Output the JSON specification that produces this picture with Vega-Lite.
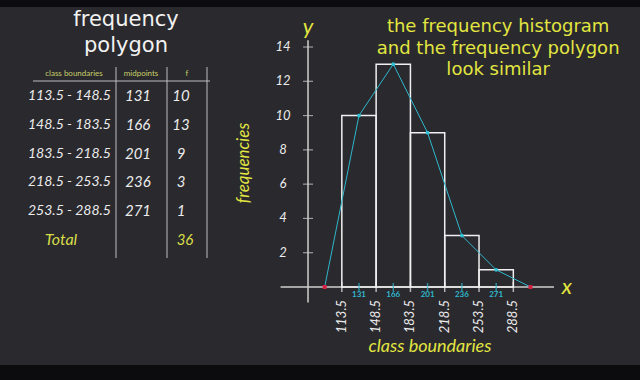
{
  "$schema": "https://vega.github.io/schema/vega-lite/v6.json",
  "width": 640,
  "height": 380,
  "autosize": {"type": "fit", "contains": "padding"},
  "padding": {"top": 7, "bottom": 15, "left": 0, "right": 0},
  "background": "#0c0c0e",
  "config": {
    "view": {"fill": "#2a292e", "stroke": null},
    "axis": {"disable": true},
    "text": {"font": "Lato"}
  },
  "datasets": {
    "table": [
      {"boundaries": "113.5 - 148.5", "midpoint": "131", "f": "10"},
      {"boundaries": "148.5 - 183.5", "midpoint": "166", "f": "13"},
      {"boundaries": "183.5 - 218.5", "midpoint": "201", "f": "9"},
      {"boundaries": "218.5 - 253.5", "midpoint": "236", "f": "3"},
      {"boundaries": "253.5 - 288.5", "midpoint": "271", "f": "1"}
    ],
    "classes": [
      {"lower": 113.5, "upper": 148.5, "mid": 131, "f": 10},
      {"lower": 148.5, "upper": 183.5, "mid": 166, "f": 13},
      {"lower": 183.5, "upper": 218.5, "mid": 201, "f": 9},
      {"lower": 218.5, "upper": 253.5, "mid": 236, "f": 3},
      {"lower": 253.5, "upper": 288.5, "mid": 271, "f": 1}
    ],
    "bounds": [
      {"b": 113.5}, {"b": 148.5}, {"b": 183.5}, {"b": 218.5}, {"b": 253.5}, {"b": 288.5}
    ],
    "polygon": [
      {"x": 96, "f": 0},
      {"x": 131, "f": 10},
      {"x": 166, "f": 13},
      {"x": 201, "f": 9},
      {"x": 236, "f": 3},
      {"x": 271, "f": 1},
      {"x": 306, "f": 0}
    ],
    "yticks": [{"v": 2}, {"v": 4}, {"v": 6}, {"v": 8}, {"v": 10}, {"v": 12}, {"v": 14}],
    "one": [{}]
  },
  "layer": [
    {
      "data": {"name": "table"},
      "layer": [
        {
          "mark": {"type": "text", "color": "#ececec", "fontSize": 14, "fontStyle": "italic", "align": "left", "baseline": "middle", "dx": -69},
          "encoding": {
            "x": {"datum": "class boundaries", "type": "nominal", "scale": {"type": "point", "domain": ["class boundaries", "midpoints", "f"], "range": [97, 184], "padding": 0}, "axis": null},
            "y": {"field": "boundaries", "type": "nominal", "scale": {"type": "point", "domain": ["header", "113.5 - 148.5", "148.5 - 183.5", "183.5 - 218.5", "218.5 - 253.5", "253.5 - 288.5", "Total"], "range": [60, 233], "padding": 0}, "axis": null},
            "text": {"field": "boundaries"}
          }
        },
        {
          "mark": {"type": "text", "color": "#ececec", "fontSize": 15, "fontStyle": "italic", "baseline": "middle", "dx": -2.5},
          "encoding": {
            "x": {"datum": "midpoints", "type": "nominal"},
            "y": {"field": "boundaries", "type": "nominal"},
            "text": {"field": "midpoint"}
          }
        },
        {
          "mark": {"type": "text", "color": "#ececec", "fontSize": 15, "fontStyle": "italic", "baseline": "middle", "dx": -3},
          "encoding": {
            "x": {"datum": "f", "type": "nominal"},
            "y": {"field": "boundaries", "type": "nominal"},
            "text": {"field": "f"}
          }
        },
        {
          "data": {"values": [{"label": "class boundaries"}]},
          "mark": {"type": "text", "color": "#c8cf68", "fontSize": 8, "baseline": "middle", "dx": -23, "dy": 7},
          "encoding": {
            "x": {"datum": "class boundaries", "type": "nominal"},
            "y": {"datum": "header", "type": "nominal"},
            "text": {"field": "label"}
          }
        },
        {
          "data": {"values": [{"label": "midpoints"}]},
          "mark": {"type": "text", "color": "#c8cf68", "fontSize": 8, "baseline": "middle", "dx": 0.5, "dy": 7},
          "encoding": {
            "x": {"datum": "midpoints", "type": "nominal"},
            "y": {"datum": "header", "type": "nominal"},
            "text": {"field": "label"}
          }
        },
        {
          "data": {"values": [{"label": "f"}]},
          "mark": {"type": "text", "color": "#c8cf68", "fontSize": 8, "baseline": "middle", "dx": 3, "dy": 7},
          "encoding": {
            "x": {"datum": "f", "type": "nominal"},
            "y": {"datum": "header", "type": "nominal"},
            "text": {"field": "label"}
          }
        },
        {
          "data": {"values": [{"label": "Total", "total": "36"}]},
          "layer": [
            {
              "mark": {"type": "text", "color": "#d8de48", "fontSize": 16, "fontStyle": "italic", "baseline": "middle", "dx": -36},
              "encoding": {
                "x": {"datum": "class boundaries", "type": "nominal"},
                "y": {"field": "label", "type": "nominal"},
                "text": {"field": "label"}
              }
            },
            {
              "mark": {"type": "text", "color": "#d8de48", "fontSize": 15, "fontStyle": "italic", "baseline": "middle", "dx": 1},
              "encoding": {
                "x": {"datum": "f", "type": "nominal"},
                "y": {"field": "label", "type": "nominal"},
                "text": {"field": "total"}
              }
            }
          ]
        },
        {
          "data": {"name": "one"},
          "mark": {"type": "rule", "color": "#bdbdbd", "strokeWidth": 1, "xOffset": -24.5, "y2Offset": 18},
          "encoding": {
            "x": {"datum": "midpoints", "type": "nominal"},
            "y": {"datum": "header", "type": "nominal"},
            "y2": {"datum": "Total"}
          }
        },
        {
          "data": {"name": "one"},
          "mark": {"type": "rule", "color": "#bdbdbd", "strokeWidth": 1, "xOffset": -17, "y2Offset": 18},
          "encoding": {
            "x": {"datum": "f", "type": "nominal"},
            "y": {"datum": "header", "type": "nominal"},
            "y2": {"datum": "Total"}
          }
        },
        {
          "data": {"name": "one"},
          "mark": {"type": "rule", "color": "#bdbdbd", "strokeWidth": 1, "xOffset": 23, "y2Offset": 18},
          "encoding": {
            "x": {"datum": "f", "type": "nominal"},
            "y": {"datum": "header", "type": "nominal"},
            "y2": {"datum": "Total"}
          }
        },
        {
          "data": {"name": "one"},
          "mark": {"type": "rule", "color": "#bdbdbd", "strokeWidth": 1, "xOffset": -64, "x2Offset": 26, "yOffset": 14},
          "encoding": {
            "x": {"datum": "class boundaries", "type": "nominal"},
            "x2": {"datum": "f"},
            "y": {"datum": "header", "type": "nominal"}
          }
        },
        {
          "data": {"values": [{"t": "frequency"}]},
          "mark": {"type": "text", "color": "#f2f2f2", "fontSize": 21, "font": "DejaVu Sans", "baseline": "alphabetic", "dx": -14.5, "dy": -41},
          "encoding": {
            "x": {"datum": "midpoints", "type": "nominal"},
            "y": {"datum": "header", "type": "nominal"},
            "text": {"field": "t"}
          }
        },
        {
          "data": {"values": [{"t": "polygon"}]},
          "mark": {"type": "text", "color": "#f2f2f2", "fontSize": 21, "font": "DejaVu Sans", "baseline": "alphabetic", "dx": -14.5, "dy": -15},
          "encoding": {
            "x": {"datum": "midpoints", "type": "nominal"},
            "y": {"datum": "header", "type": "nominal"},
            "text": {"field": "t"}
          }
        }
      ]
    },
    {
      "layer": [
        {
          "data": {"name": "one"},
          "mark": {"type": "rule", "color": "#cfcfcf", "strokeWidth": 1.5},
          "encoding": {
            "x": {"datum": 51, "type": "quantitative", "scale": {"domain": [80, 330], "range": [309, 554], "nice": false, "zero": false}, "axis": null},
            "x2": {"datum": 330},
            "y": {"datum": 0, "type": "quantitative", "scale": {"domain": [0, 14], "range": [280, 40], "nice": false, "zero": false}, "axis": null}
          }
        },
        {
          "data": {"name": "one"},
          "mark": {"type": "rule", "color": "#cfcfcf", "strokeWidth": 1.5},
          "encoding": {
            "x": {"datum": 79, "type": "quantitative"},
            "y": {"datum": -0.9, "type": "quantitative"},
            "y2": {"datum": 14.4}
          }
        },
        {
          "data": {"name": "yticks"},
          "mark": {"type": "tick", "orient": "horizontal", "size": 10, "thickness": 1.2, "color": "#cfcfcf"},
          "encoding": {
            "x": {"datum": 79, "type": "quantitative"},
            "y": {"field": "v", "type": "quantitative"}
          }
        },
        {
          "data": {"name": "yticks"},
          "mark": {"type": "text", "color": "#ececec", "fontSize": 13, "fontStyle": "italic", "dx": -25, "baseline": "middle"},
          "encoding": {
            "x": {"datum": 79, "type": "quantitative"},
            "y": {"field": "v", "type": "quantitative"},
            "text": {"field": "v"}
          }
        },
        {
          "data": {"name": "classes"},
          "mark": {"type": "rect", "fill": null, "fillOpacity": 0, "stroke": "#f0f0f0", "strokeWidth": 1.5},
          "encoding": {
            "x": {"field": "lower", "type": "quantitative"},
            "x2": {"field": "upper"},
            "y": {"field": "f", "type": "quantitative"},
            "y2": {"datum": 0}
          }
        },
        {
          "data": {"name": "bounds"},
          "mark": {"type": "tick", "orient": "vertical", "size": 10, "thickness": 1.5, "color": "#f0f0f0"},
          "encoding": {
            "x": {"field": "b", "type": "quantitative"},
            "y": {"datum": 0, "type": "quantitative"}
          }
        },
        {
          "data": {"name": "bounds"},
          "mark": {"type": "text", "color": "#ececec", "fontSize": 13, "fontStyle": "italic", "angle": 270, "align": "right", "baseline": "middle"},
          "encoding": {
            "x": {"field": "b", "type": "quantitative"},
            "y": {"datum": -0.76, "type": "quantitative"},
            "text": {"field": "b", "type": "quantitative", "format": ".1f"}
          }
        },
        {
          "data": {"name": "classes"},
          "mark": {"type": "tick", "orient": "vertical", "size": 8, "thickness": 1.5, "color": "#2fb8cc"},
          "encoding": {
            "x": {"field": "mid", "type": "quantitative"},
            "y": {"datum": 0, "type": "quantitative"}
          }
        },
        {
          "data": {"name": "classes"},
          "mark": {"type": "text", "color": "#2fb8cc", "fontSize": 8, "fontWeight": "bold", "baseline": "middle"},
          "encoding": {
            "x": {"field": "mid", "type": "quantitative"},
            "y": {"datum": -0.47, "type": "quantitative"},
            "text": {"field": "mid"}
          }
        },
        {
          "data": {"name": "polygon"},
          "mark": {"type": "line", "color": "#2fb8cc", "strokeWidth": 1},
          "encoding": {
            "x": {"field": "x", "type": "quantitative"},
            "y": {"field": "f", "type": "quantitative"}
          }
        },
        {
          "data": {"name": "classes"},
          "mark": {"type": "point", "filled": true, "color": "#2fc4d8", "size": 14, "opacity": 1},
          "encoding": {
            "x": {"field": "mid", "type": "quantitative"},
            "y": {"field": "f", "type": "quantitative"}
          }
        },
        {
          "data": {"name": "polygon"},
          "transform": [{"filter": "datum.f == 0"}],
          "mark": {"type": "square", "filled": true, "color": "#d42040", "size": 16, "opacity": 1},
          "encoding": {
            "x": {"field": "x", "type": "quantitative"},
            "y": {"field": "f", "type": "quantitative"}
          }
        },
        {
          "data": {"values": [{"t": "the frequency histogram"}]},
          "mark": {"type": "text", "color": "#e2e640", "fontSize": 18, "font": "DejaVu Sans", "baseline": "alphabetic", "align": "center"},
          "encoding": {
            "x": {"datum": 273, "type": "quantitative"},
            "y": {"datum": 14.875, "type": "quantitative"},
            "text": {"field": "t"}
          }
        },
        {
          "data": {"values": [{"t": "and the frequency polygon"}]},
          "mark": {"type": "text", "color": "#e2e640", "fontSize": 18, "font": "DejaVu Sans", "baseline": "alphabetic", "align": "center"},
          "encoding": {
            "x": {"datum": 273, "type": "quantitative"},
            "y": {"datum": 13.62, "type": "quantitative"},
            "text": {"field": "t"}
          }
        },
        {
          "data": {"values": [{"t": "look similar"}]},
          "mark": {"type": "text", "color": "#e2e640", "fontSize": 18, "font": "DejaVu Sans", "baseline": "alphabetic", "align": "center"},
          "encoding": {
            "x": {"datum": 273, "type": "quantitative"},
            "y": {"datum": 12.37, "type": "quantitative"},
            "text": {"field": "t"}
          }
        },
        {
          "data": {"values": [{"t": "y"}]},
          "mark": {"type": "text", "color": "#e2e640", "fontSize": 22, "fontStyle": "italic", "baseline": "alphabetic"},
          "encoding": {
            "x": {"datum": 79, "type": "quantitative"},
            "y": {"datum": 14.75, "type": "quantitative"},
            "text": {"field": "t"}
          }
        },
        {
          "data": {"values": [{"t": "x"}]},
          "mark": {"type": "text", "color": "#e2e640", "fontSize": 22, "fontStyle": "italic", "baseline": "middle"},
          "encoding": {
            "x": {"datum": 343, "type": "quantitative"},
            "y": {"datum": 0, "type": "quantitative"},
            "text": {"field": "t"}
          }
        },
        {
          "data": {"values": [{"t": "frequencies"}]},
          "mark": {"type": "text", "color": "#e2e640", "fontSize": 17, "fontStyle": "italic", "angle": 270, "baseline": "middle"},
          "encoding": {
            "x": {"datum": 13.5, "type": "quantitative"},
            "y": {"datum": 7.23, "type": "quantitative"},
            "text": {"field": "t"}
          }
        },
        {
          "data": {"values": [{"t": "class boundaries"}]},
          "mark": {"type": "text", "color": "#e2e640", "fontSize": 18, "fontStyle": "italic", "baseline": "middle"},
          "encoding": {
            "x": {"datum": 203.5, "type": "quantitative"},
            "y": {"datum": -3.5, "type": "quantitative"},
            "text": {"field": "t"}
          }
        }
      ]
    }
  ],
  "resolve": {"scale": {"x": "independent", "y": "independent"}}
}
